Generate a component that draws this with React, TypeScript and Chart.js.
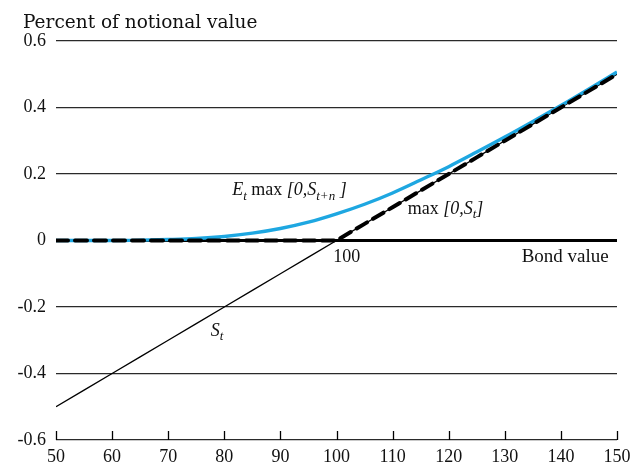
import React, { useEffect, useRef } from "react";
import { Chart, registerables } from "chart.js";

Chart.register(...registerables);

// Bond value (x axis)
const bondValues = [50, 55, 60, 65, 70, 75, 80, 85, 90, 95, 100, 105, 110, 115, 120, 125, 130, 135, 140, 145, 150];
// S_t : thin black line
const spotValues = [-0.5, -0.45, -0.4, -0.35, -0.3, -0.25, -0.2, -0.15, -0.1, -0.05, 0, 0.05, 0.1, 0.15, 0.2, 0.25, 0.3, 0.35, 0.4, 0.45, 0.5];
// max[0, S_t] : thick dashed black
const payoffValues = [0, 0, 0, 0, 0, 0, 0, 0, 0, 0, 0, 0.05, 0.1, 0.15, 0.2, 0.25, 0.3, 0.35, 0.4, 0.45, 0.5];
// E_t max[0, S_{t+n}] : cyan curve
const expectedPayoffValues = [0, 0, 0, 0.001, 0.003, 0.006, 0.012, 0.022, 0.036, 0.055, 0.08, 0.109, 0.143, 0.182, 0.222, 0.266, 0.311, 0.358, 0.406, 0.456, 0.507];

const xTickValues = [50, 60, 70, 80, 90, 100, 110, 120, 130, 140, 150];
const yTickValues = [-0.6, -0.4, -0.2, 0, 0.2, 0.4, 0.6];

const titleText = "Percent of notional value";

type Part = { text: string; italic?: boolean; sub?: boolean };
type Note = { x: number; y: number; size: number; parts: Part[] };

const notes: Note[] = [
  {
    x: 81.4,
    y: 0.136,
    size: 18,
    parts: [
      { text: "E", italic: true },
      { text: "t", italic: true, sub: true },
      { text: " max " },
      { text: "[0,S", italic: true },
      { text: "t+n", italic: true, sub: true },
      { text: " ]", italic: true },
    ],
  },
  {
    x: 112.7,
    y: 0.081,
    size: 18,
    parts: [
      { text: "max " },
      { text: "[0,S", italic: true },
      { text: "t", italic: true, sub: true },
      { text: "]", italic: true },
    ],
  },
  { x: 99.4, y: -0.064, size: 18, parts: [{ text: "100" }] },
  { x: 133, y: -0.064, size: 19, parts: [{ text: "Bond value" }] },
  {
    x: 77.6,
    y: -0.286,
    size: 18,
    parts: [
      { text: "S", italic: true },
      { text: "t", italic: true, sub: true },
    ],
  },
];

const SERIF = '"Liberation Serif", "Times New Roman", serif';

function drawRich(ctx: CanvasRenderingContext2D, parts: Part[], x: number, y: number, size: number) {
  let cx = x;
  for (const p of parts) {
    const fs = p.sub ? Math.round(size * 0.72) : size;
    ctx.font = `${p.italic ? "italic " : ""}${fs}px ${SERIF}`;
    ctx.fillText(p.text, cx, p.sub ? y + size * 0.25 : y);
    cx += ctx.measureText(p.text).width;
  }
}

const decorPlugin = {
  id: "decor",
  afterDraw(chart: any) {
    const ctx: CanvasRenderingContext2D = chart.ctx;
    const xs = chart.scales.x;
    const ys = chart.scales.y;
    const area = chart.chartArea;
    ctx.save();
    // tick marks on x axis (pointing up)
    ctx.strokeStyle = "#000";
    ctx.lineWidth = 1.3;
    for (const v of xTickValues) {
      const px = Math.round(xs.getPixelForValue(v)) + 0.5;
      ctx.beginPath();
      ctx.moveTo(px, area.bottom);
      ctx.lineTo(px, area.bottom - 9);
      ctx.stroke();
    }
    // title
    ctx.fillStyle = "#111";
    ctx.textBaseline = "alphabetic";
    ctx.textAlign = "left";
    ctx.font = `18.5px "DejaVu Serif", serif`;
    ctx.fillText(titleText, 23, 28);
    // annotations
    for (const n of notes) {
      drawRich(ctx, n.parts, xs.getPixelForValue(n.x), ys.getPixelForValue(n.y), n.size);
    }
    ctx.restore();
  },
};

export default function App() {
  const ref = useRef<HTMLCanvasElement | null>(null);
  useEffect(() => {
    if (!ref.current) return;
    const pts = (vals: number[]) => bondValues.map((x, i) => ({ x, y: vals[i] }));
    const chart = new Chart(ref.current, {
      type: "line",
      data: {
        datasets: [
          {
            label: "max [0,St]",
            data: pts(payoffValues),
            borderColor: "#000",
            borderWidth: 4,
            borderDash: [12, 7],
            borderCapStyle: "round",
            pointRadius: 0,
            tension: 0,
            order: 0,
          },
          {
            label: "Et max [0,St+n]",
            data: pts(expectedPayoffValues),
            borderColor: "#1ea7e1",
            borderWidth: 3.4,
            pointRadius: 0,
            cubicInterpolationMode: "monotone",
            order: 1,
          },
          {
            label: "St",
            data: pts(spotValues),
            borderColor: "#000",
            borderWidth: 1.3,
            pointRadius: 0,
            tension: 0,
            order: 2,
          },
        ],
      },
      options: {
        animation: false,
        responsive: false,
        devicePixelRatio: 1,
        layout: { padding: { left: 0, top: 41, right: 20, bottom: 0 } },
        plugins: { legend: { display: false }, tooltip: { enabled: false }, title: { display: false } },
        scales: {
          x: {
            type: "linear",
            min: 50,
            max: 150,
            afterBuildTicks: (s: any) => {
              s.ticks = xTickValues.map((v) => ({ value: v }));
            },
            afterFit: (s: any) => {
              s.height = 28;
            },
            grid: { display: false, drawTicks: false },
            border: { display: false },
            ticks: {
              padding: 6,
              color: "#111",
              font: { family: SERIF, size: 18 },
              maxRotation: 0,
              autoSkip: false,
            },
          },
          y: {
            type: "linear",
            min: -0.6,
            max: 0.6,
            afterBuildTicks: (s: any) => {
              s.ticks = yTickValues.map((v) => ({ value: v }));
            },
            afterFit: (s: any) => {
              s.width = 56;
            },
            grid: {
              drawTicks: false,
              color: (c: any) => (c.tick && Math.abs(c.tick.value) < 1e-9 ? "#000" : "#2a2a2a"),
              lineWidth: (c: any) => (c.tick && Math.abs(c.tick.value) < 1e-9 ? 3 : 1.3),
            },
            border: { display: false },
            ticks: {
              padding: 10,
              color: "#111",
              font: { family: SERIF, size: 18 },
              callback: (v: any) => {
                const n = Math.round(Number(v) * 10) / 10;
                return n === 0 ? "0" : n.toFixed(1);
              },
            },
          },
        },
      },
      plugins: [decorPlugin],
    } as any);
    return () => chart.destroy();
  }, []);
  return (
    <div style={{ position: "absolute", left: 0, top: 0, width: 637, height: 468, background: "#fff" }}>
      <canvas ref={ref} width={637} height={468} style={{ width: 637, height: 468 }} />
    </div>
  );
}
